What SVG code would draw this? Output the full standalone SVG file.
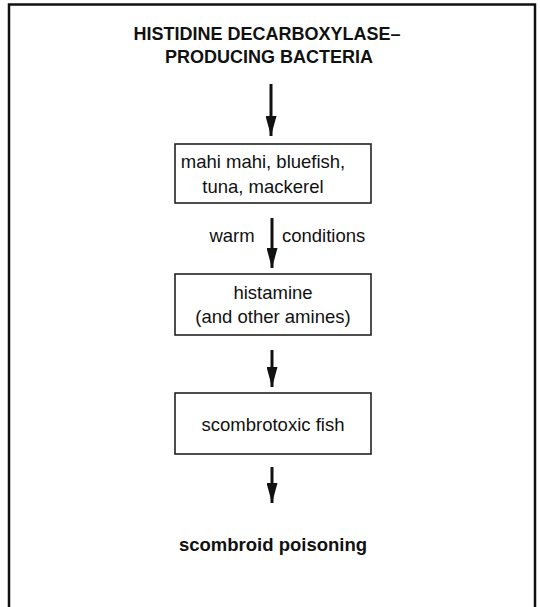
<svg xmlns="http://www.w3.org/2000/svg" width="540" height="607" viewBox="0 0 540 607">
<style>
text{font-family:"Liberation Sans",Arial,sans-serif;fill:#111;text-anchor:middle}
.b{font-weight:bold;font-size:18px}
.r{font-size:18.5px}
.box{fill:#fff;stroke:#222;stroke-width:1.6}
.ar{stroke:#111;stroke-width:3;fill:none}
</style>
<defs>
<marker id="ah" markerWidth="20" markerHeight="11" refX="20" refY="5.5" orient="auto" markerUnits="userSpaceOnUse" viewBox="0 0 20 11">
<path d="M0,0 L20,5.5 L0,11 Z" fill="#111"/>
</marker>
</defs>
<rect x="9" y="4.5" width="526" height="610" fill="#fff" stroke="#111" stroke-width="2.5"/>
<g id="title">
<text class="b" x="267" y="40">HISTIDINE DECARBOXYLASE–</text>
<text class="b" x="269" y="63">PRODUCING BACTERIA</text>
</g>
<g id="fish">
<rect class="box" x="175" y="144" width="196" height="59"/>
<text class="r" x="263" y="168">mahi mahi, bluefish,</text>
<text class="r" x="263" y="193">tuna, mackerel</text>
</g>
<g id="histamine">
<rect class="box" x="175" y="274" width="196" height="61"/>
<text class="r" x="273" y="299">histamine</text>
<text class="r" x="273" y="323">(and other amines)</text>
</g>
<g id="scombrotoxic">
<rect class="box" x="175" y="393" width="196" height="61"/>
<text class="r" x="273" y="431">scombrotoxic fish</text>
</g>
<g id="poisoning">
<text class="b" x="273" y="551" style="font-size:18.5px">scombroid poisoning</text>
</g>
<g id="connectors">
<line class="ar" x1="271" y1="84" x2="271" y2="136" marker-end="url(#ah)"/>
<line class="ar" x1="272" y1="218" x2="272" y2="268" marker-end="url(#ah)"/>
<line class="ar" x1="272" y1="350" x2="272" y2="387" marker-end="url(#ah)"/>
<line class="ar" x1="272" y1="467" x2="272" y2="503" marker-end="url(#ah)"/>
<text class="r" x="232" y="242">warm</text>
<text class="r" x="282" y="242" style="text-anchor:start">conditions</text>
</g>
</svg>
